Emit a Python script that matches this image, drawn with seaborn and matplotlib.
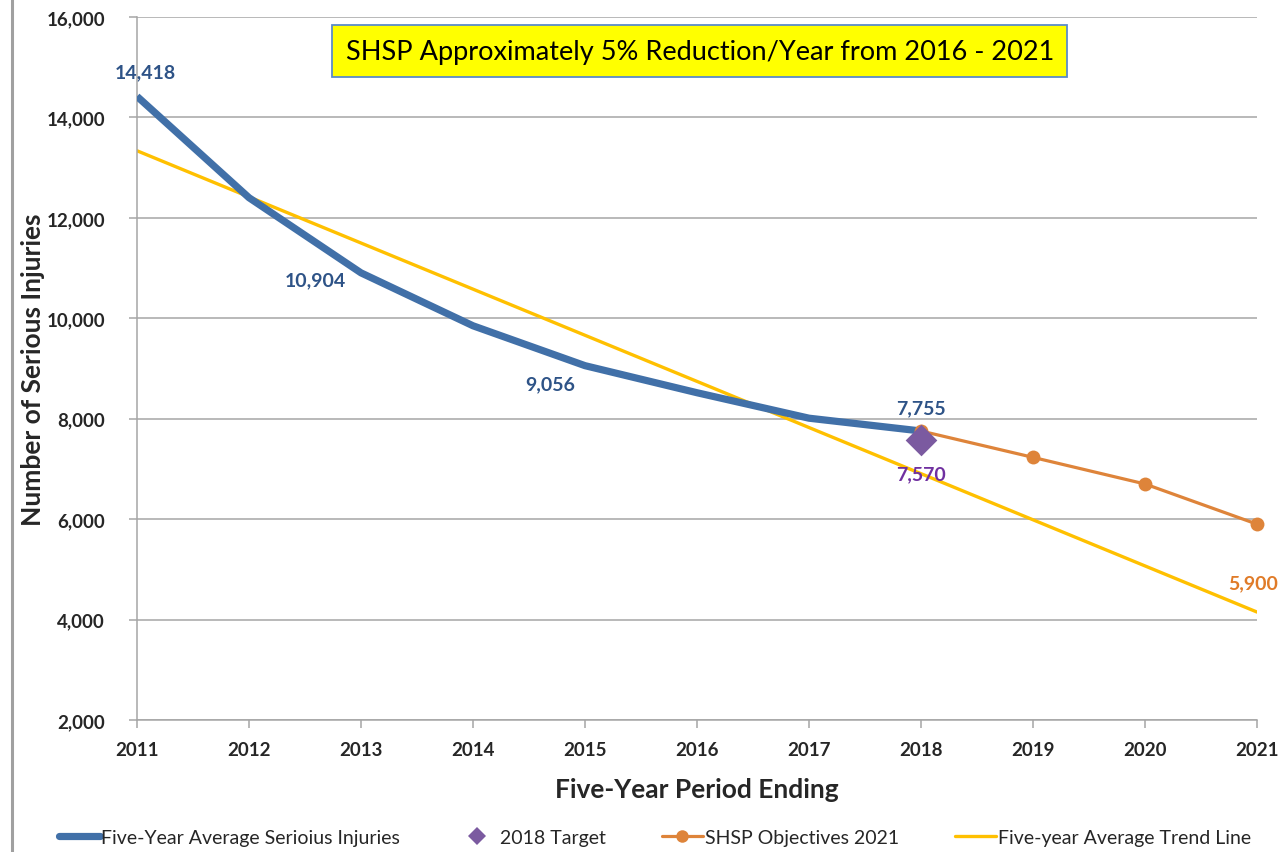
import pandas as pd
import matplotlib.pyplot as plt
import seaborn as sns
from matplotlib.lines import Line2D


# Values
years_avg = [2011, 2012, 2013, 2014, 2015, 2016, 2017, 2018]
avg_injuries = [14418, 12400, 10904, 9850, 9056, 8517, 8010, 7755]

target_year = [2018]
target_value = [7570]

shsp_years = [2018, 2019, 2020, 2021]
shsp_values = [7755, 7230, 6700, 5900]

trend_years = [2011, 2021]
trend_values = [13335, 4150]

year_ticks = list(range(2011, 2022))
y_ticks = [2000, 4000, 6000, 8000, 10000, 12000, 14000, 16000]

blue = '#4170A8'
label_blue = '#2E5387'
orange = '#DE843A'
label_orange = '#E07B28'
yellow = '#FFC000'
purple = '#7B5AA0'
label_purple = '#7030A0'
grid_grey = '#A6A6A6'

sns.set_style('white')
plt.rcParams['font.family'] = ['Lato', 'DejaVu Sans']

df_avg = pd.DataFrame({'Year': years_avg, 'Injuries': avg_injuries})
df_target = pd.DataFrame({'Year': target_year, 'Injuries': target_value})
df_shsp = pd.DataFrame({'Year': shsp_years, 'Injuries': shsp_values})
df_trend = pd.DataFrame({'Year': trend_years, 'Injuries': trend_values})

fig, ax = plt.subplots(figsize=(12.84, 8.53), dpi=100)
fig.subplots_adjust(left=0.1067, right=0.979, top=0.979, bottom=0.1547)

# gridlines first so the series sit on top
ax.set_axisbelow(True)
ax.yaxis.grid(True, color=grid_grey, linewidth=1.1)

sns.lineplot(data=df_trend, x='Year', y='Injuries', ax=ax, color=yellow,
             linewidth=2.4, zorder=2)
sns.lineplot(data=df_avg, x='Year', y='Injuries', ax=ax, color=blue,
             linewidth=5.2, zorder=3, solid_capstyle='butt',
             solid_joinstyle='round')
sns.lineplot(data=df_shsp, x='Year', y='Injuries', ax=ax, color=orange,
             linewidth=2.3, marker='o', markersize=10, markeredgewidth=0,
             zorder=4, clip_on=False)
sns.scatterplot(data=df_target, x='Year', y='Injuries', ax=ax, color=purple,
                marker='D', s=260, linewidth=0, zorder=5)

ax.set_xlim(2011, 2021)
ax.set_ylim(2000, 16000)
ax.set_xticks(year_ticks)
ax.set_yticks(y_ticks)
ax.set_yticklabels([f'{v:,}' for v in y_ticks])
ax.tick_params(axis='both', labelsize=13.5, length=6, color=grid_grey,
               width=1.1, direction='out', bottom=True, left=True)
ax.tick_params(axis='y', pad=17)
ax.tick_params(axis='x', pad=9)
for lbl in ax.get_xticklabels() + ax.get_yticklabels():
    lbl.set_fontweight('bold')

for side in ['top', 'right']:
    ax.spines[side].set_visible(False)
for side in ['left', 'bottom']:
    ax.spines[side].set_color(grid_grey)
    ax.spines[side].set_linewidth(1.1)

ax.set_xlabel('Five-Year Period Ending', fontsize=19, fontweight='bold',
              labelpad=14)
ax.set_ylabel('Number of Serious Injuries', fontsize=19, fontweight='bold')
ax.yaxis.set_label_coords(-0.082, 0.5)

# data labels
def label(x, y, text, dx, dy, color):
    ax.annotate(text, (x, y), xytext=(dx, dy), textcoords='offset points',
                ha='center', va='center', fontsize=14, fontweight='bold',
                color=color, zorder=6, annotation_clip=False)

label(years_avg[0], avg_injuries[0], f'{avg_injuries[0]:,}', 6, 18, label_blue)
label(years_avg[2], avg_injuries[2], f'{avg_injuries[2]:,}', -33, -5, label_blue)
label(years_avg[4], avg_injuries[4], f'{avg_injuries[4]:,}', -25, -13, label_blue)
label(years_avg[7], avg_injuries[7], f'{avg_injuries[7]:,}', 0, 17, label_blue)
label(target_year[0], target_value[0], f'{target_value[0]:,}', 0, -24, label_purple)
label(shsp_years[-1], shsp_values[-1], f'{shsp_values[-1]:,}', -3, -42, label_orange)

# highlighted note
ax.text(0.5025, 0.951, 'SHSP Approximately 5% Reduction/Year from 2016 - 2021',
        transform=ax.transAxes, ha='center', va='center', fontsize=19.5,
        color='black', zorder=7,
        bbox=dict(boxstyle='square,pad=0.5', facecolor='#FFFF00',
                  edgecolor='#5B8BC9', linewidth=1.3))

# slide border on the left
fig.add_artist(Line2D([12 / 1284, 12 / 1284], [0, 1], transform=fig.transFigure,
                      color='#A0A0A0', linewidth=2.2))

handles = [
    Line2D([], [], color=blue, linewidth=5.2),
    Line2D([], [], color=purple, marker='D', linestyle='none', markersize=9,
           markeredgewidth=0),
    Line2D([], [], color=orange, linewidth=2.3, marker='o', markersize=9,
           markeredgewidth=0),
    Line2D([], [], color=yellow, linewidth=2.4),
]
labels = ['Five-Year Average Serioius Injuries', '2018 Target',
          'SHSP Objectives 2021', 'Five-year Average Trend Line']
fig.legend(handles, labels, loc='lower center', bbox_to_anchor=(0.51, -0.013),
           ncol=4, frameon=False, fontsize=14, handlelength=2.1,
           handletextpad=0.1, columnspacing=2.9)

plt.savefig('out.png', dpi=100)
